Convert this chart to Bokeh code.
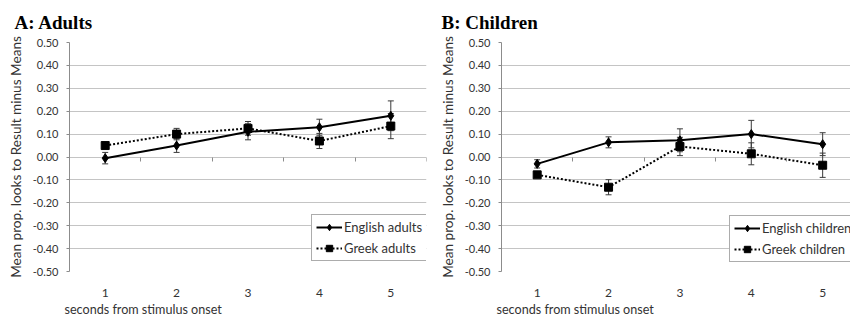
from bokeh.plotting import figure
from bokeh.models import (Whisker, ColumnDataSource, Range1d, FixedTicker, LinearAxis,
                          Title, Legend, LegendItem, TeeHead, NumeralTickFormatter)
from bokeh.layouts import row
from bokeh.embed import file_html
from bokeh.resources import INLINE

# ---------------- data ----------------
seconds = [1, 2, 3, 4, 5]
y_ticks = [-0.5, -0.4, -0.3, -0.2, -0.1, 0.0, 0.1, 0.2, 0.3, 0.4, 0.5]
bin_edges = [0.5, 1.5, 2.5, 3.5, 4.5, 5.5]

english_adults = [-0.005, 0.05, 0.11, 0.13, 0.18]
english_adults_err = [0.025, 0.03, 0.035, 0.035, 0.065]
greek_adults = [0.05, 0.10, 0.125, 0.07, 0.135]
greek_adults_err = [0.01, 0.025, 0.03, 0.033, 0.055]

english_children = [-0.03, 0.064, 0.073, 0.10, 0.056]
english_children_err = [0.018, 0.024, 0.05, 0.06, 0.05]
greek_children = [-0.078, -0.132, 0.046, 0.014, -0.036]
greek_children_err = [0.01, 0.033, 0.04, 0.048, 0.053]

FONT = "Lato"
TXT = "#333333"
GRID = "#c4c4c4"
AXIS = "#8c8c8c"
HEIGHT = 320


def make_panel(title, eng, eng_err, grk, grk_err, eng_label, grk_label,
               width, b_left, b_right, b_top, b_bottom, x_end, title_offset,
               title_standoff, legend_loc):
    p = figure(width=width, height=HEIGHT, output_backend="svg", toolbar_location=None,
               x_range=Range1d(0.5, x_end), y_range=Range1d(-0.5, 0.5),
               min_border_left=b_left, min_border_right=b_right,
               min_border_top=b_top, min_border_bottom=b_bottom)
    p.outline_line_color = None
    p.background_fill_color = "white"
    p.border_fill_color = "white"

    # title
    p.title.text = title
    p.title.text_font = "Liberation Serif"
    p.title.text_font_style = "bold"
    p.title.text_font_size = "19px"
    p.title.text_color = "black"
    p.title.align = "left"
    p.title.offset = title_offset
    p.title.standoff = title_standoff

    # grid
    p.xgrid.grid_line_color = None
    p.ygrid.grid_line_color = GRID
    p.ygrid.grid_line_width = 1
    p.ygrid.ticker = FixedTicker(ticks=y_ticks)

    # y axis
    p.yaxis.ticker = FixedTicker(ticks=y_ticks)
    p.yaxis.formatter = NumeralTickFormatter(format="0.00")
    p.yaxis.axis_line_color = AXIS
    p.yaxis.major_tick_line_color = AXIS
    p.yaxis.major_tick_out = 3
    p.yaxis.major_tick_in = 0
    p.yaxis.minor_tick_line_color = None
    p.yaxis.major_label_text_font = FONT
    p.yaxis.major_label_text_font_size = "11px"
    p.yaxis.major_label_text_color = TXT
    p.yaxis.major_label_standoff = 8
    p.yaxis.axis_label = "Mean prop. looks to Result minus Means"
    p.yaxis.axis_label_text_font = FONT
    p.yaxis.axis_label_text_font_size = "13.6px"
    p.yaxis.axis_label_text_font_style = "normal"
    p.yaxis.axis_label_text_color = TXT
    p.yaxis.axis_label_standoff = 6

    # x axis (labels at the bottom)
    p.xaxis.ticker = FixedTicker(ticks=seconds)
    p.xaxis.axis_line_color = None
    p.xaxis.major_tick_line_color = None
    p.xaxis.minor_tick_line_color = None
    p.xaxis.major_label_text_font = FONT
    p.xaxis.major_label_text_font_size = "12px"
    p.xaxis.major_label_text_color = TXT
    p.xaxis.major_label_standoff = 11

    # category axis crossing at zero (tick marks at bin edges)
    zero_axis = LinearAxis(fixed_location=0, ticker=FixedTicker(ticks=bin_edges),
                           axis_line_color=None, major_tick_line_color=AXIS,
                           major_tick_out=4, major_tick_in=0,
                           minor_tick_line_color=None,
                           major_label_text_font_size="0px", major_label_text_alpha=0)
    p.add_layout(zero_axis, "below")

    p.add_layout(Title(text="seconds from stimulus onset", align="left", text_font=FONT,
                       text_font_size="12.6px", text_font_style="normal", text_color=TXT,
                       offset=-5, standoff=0), "below")

    # series
    src_e = ColumnDataSource(dict(x=seconds, y=eng,
                                  lo=[v - e for v, e in zip(eng, eng_err)],
                                  hi=[v + e for v, e in zip(eng, eng_err)]))
    src_g = ColumnDataSource(dict(x=seconds, y=grk,
                                  lo=[v - e for v, e in zip(grk, grk_err)],
                                  hi=[v + e for v, e in zip(grk, grk_err)]))

    for src in (src_e, src_g):
        w = Whisker(source=src, base="x", lower="lo", upper="hi",
                    line_color="#3a3a3a", line_width=1,
                    upper_head=TeeHead(size=6, line_color="#3a3a3a", line_width=1),
                    lower_head=TeeHead(size=6, line_color="#3a3a3a", line_width=1))
        p.add_layout(w)

    le = p.line("x", "y", source=src_e, line_color="black", line_width=2)
    se = p.scatter("x", "y", source=src_e, marker="diamond", size=9,
                   fill_color="black", line_color="black")
    lg = p.line("x", "y", source=src_g, line_color="black", line_width=2, line_dash="2 2")
    sg = p.scatter("x", "y", source=src_g, marker="square", size=8,
                   fill_color="black", line_color="black")

    legend = Legend(items=[LegendItem(label=eng_label, renderers=[le, se]),
                           LegendItem(label=grk_label, renderers=[lg, sg])],
                    location=legend_loc, orientation="vertical",
                    border_line_color="#595959", border_line_width=1,
                    background_fill_color="white", background_fill_alpha=1,
                    label_text_font=FONT, label_text_font_size="13px",
                    label_text_color=TXT, glyph_width=26, glyph_height=16,
                    label_height=16, label_standoff=2, spacing=5, padding=4, margin=0)
    p.add_layout(legend)
    return p


pa = make_panel("A: Adults", english_adults, english_adults_err, greek_adults, greek_adults_err,
                "English adults", "Greek adults",
                width=436, b_left=69, b_right=10, b_top=40, b_bottom=47,
                x_end=5.5, title_offset=-55, title_standoff=19, legend_loc=(242, 10))
pb = make_panel("B: Children", english_children, english_children_err, greek_children,
                greek_children_err, "English children", "Greek children",
                width=414, b_left=65, b_right=0, b_top=42, b_bottom=49,
                x_end=5.39, title_offset=-60, title_standoff=19, legend_loc=(228, 9))

layout = row(pa, pb)
open("out.html", "w").write(file_html(layout, INLINE))
